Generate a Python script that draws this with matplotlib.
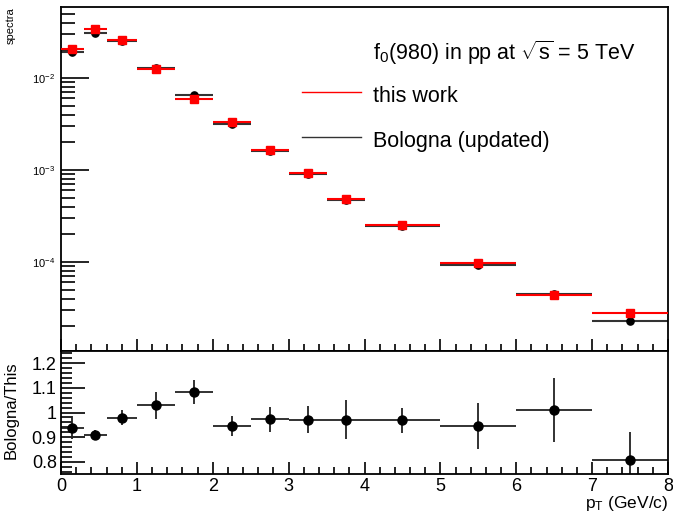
import numpy as np
import matplotlib
matplotlib.use('Agg')
import matplotlib.pyplot as plt
from matplotlib.ticker import MultipleLocator, LogLocator, NullFormatter, FuncFormatter
from matplotlib.lines import Line2D

plt.rcParams['font.family'] = ['Liberation Sans', 'DejaVu Sans']
plt.rcParams['mathtext.fontset'] = 'custom'
plt.rcParams['mathtext.rm'] = 'Liberation Sans'
plt.rcParams['mathtext.it'] = 'Liberation Sans:italic'
plt.rcParams['mathtext.bf'] = 'Liberation Sans:bold'

# ---- data ----
bin_lo = [0.0, 0.3, 0.6, 1.0, 1.5, 2.0, 2.5, 3.0, 3.5, 4.0, 5.0, 6.0, 7.0]
bin_hi = [0.3, 0.6, 1.0, 1.5, 2.0, 2.5, 3.0, 3.5, 4.0, 5.0, 6.0, 7.0, 8.0]
this_work = [2.07e-2, 3.41e-2, 2.59e-2, 1.24e-2, 5.98e-3, 3.33e-3, 1.65e-3,
             9.4e-4, 4.84e-4, 2.55e-4, 9.75e-5, 4.41e-5, 2.81e-5]
this_err = [6e-4, 7e-4, 5e-4, 3e-4, 1.6e-4, 1e-4, 5e-5,
            3e-5, 2e-5, 1e-5, 6e-6, 4e-6, 2.5e-6]
bologna = [1.94e-2, 3.10e-2, 2.54e-2, 1.28e-2, 6.48e-3, 3.15e-3, 1.60e-3,
           9.1e-4, 4.70e-4, 2.47e-4, 9.2e-5, 4.45e-5, 2.27e-5]
bologna_err = [5e-4, 6e-4, 5e-4, 3e-4, 1.6e-4, 9e-5, 5e-5,
               3e-5, 2e-5, 1e-5, 6e-6, 4e-6, 2e-6]
ratio = [0.939, 0.909, 0.979, 1.029, 1.083, 0.945, 0.972,
         0.970, 0.971, 0.968, 0.945, 1.010, 0.808]
ratio_err = [0.047, 0.022, 0.030, 0.055, 0.050, 0.042, 0.049,
             0.055, 0.078, 0.051, 0.094, 0.130, 0.115]

lo = np.array(bin_lo)
hi = np.array(bin_hi)
xc = (lo + hi) / 2
xe = (hi - lo) / 2

fig = plt.figure(figsize=(6.73, 5.14), dpi=100)
W, H = 673, 514
def rect(x0, y0, x1, y1):
    return [x0 / W, 1 - y1 / H, (x1 - x0) / W, (y1 - y0) / H]

ax1 = fig.add_axes(rect(61, 7, 668, 351))
ax2 = fig.add_axes(rect(61, 351, 668, 474))

# ---- top panel ----
ax1.errorbar(xc, bologna, xerr=xe, yerr=bologna_err, fmt='o', color='black',
             ecolor='#333333', elinewidth=1.5, ms=5.2, capsize=0, zorder=2)
ax1.errorbar(xc, this_work, xerr=xe, yerr=this_err, fmt='s', color='#ff0000',
             ecolor='#ff0000', elinewidth=1.5, ms=6.0, capsize=0, zorder=3)
ax1.set_yscale('log')
ax1.set_xlim(0, 8)
ax1.set_ylim(10 ** -4.967, 10 ** -1.228)
ax1.yaxis.set_major_locator(LogLocator(base=10, numticks=10))
ax1.yaxis.set_minor_locator(LogLocator(base=10, subs=np.arange(2, 10), numticks=20))
ax1.yaxis.set_minor_formatter(NullFormatter())
ax1.xaxis.set_major_locator(MultipleLocator(1))
ax1.xaxis.set_minor_locator(MultipleLocator(0.2))
ax1.tick_params(axis='x', which='both', labelbottom=False, direction='in', top=False)
ax1.tick_params(axis='x', which='major', length=9, width=1.2)
ax1.tick_params(axis='x', which='minor', length=5, width=1.2)
ax1.tick_params(axis='y', which='major', direction='in', length=20, width=1.2,
                labelsize=8, right=False, pad=4)
ax1.tick_params(axis='y', which='minor', direction='in', length=10, width=1.2, right=False)
ax1.set_ylabel('spectra', fontsize=8)
ax1.yaxis.set_label_coords(-0.075, 1.0)
ax1.yaxis.label.set_horizontalalignment('right')
for s in ax1.spines.values():
    s.set_linewidth(1.3)

# legend (manual, ROOT style)
ax1.text(373 / W, 1 - 53 / H, r'f$_{\rm 0}$(980) in pp at $\sqrt{\rm s}$ = 5 TeV',
         transform=fig.transFigure, fontsize=15.5, va='center', ha='left')
fig.add_artist(Line2D([302 / W, 361 / W], [1 - 92 / H, 1 - 92 / H], color='#ff0000', lw=1.0))
ax1.text(373 / W, 1 - 96 / H, 'this work', transform=fig.transFigure,
         fontsize=15.5, va='center', ha='left')
fig.add_artist(Line2D([302 / W, 361 / W], [1 - 137 / H, 1 - 137 / H], color='#333333', lw=1.0))
ax1.text(373 / W, 1 - 141 / H, 'Bologna (updated)', transform=fig.transFigure,
         fontsize=15.5, va='center', ha='left')

# ---- ratio panel ----
ax2.errorbar(xc, ratio, xerr=xe, yerr=ratio_err, fmt='o', color='black',
             ecolor='#222222', elinewidth=1.3, ms=6.5, capsize=0)
ax2.set_xlim(0, 8)
ax2.set_ylim(0.751, 1.249)
ax2.xaxis.set_major_locator(MultipleLocator(1))
ax2.xaxis.set_minor_locator(MultipleLocator(0.2))
ax2.yaxis.set_major_locator(MultipleLocator(0.1))
ax2.yaxis.set_minor_locator(MultipleLocator(0.02))
ax2.yaxis.set_major_formatter(FuncFormatter(lambda v, p: '%g' % round(v, 2)))
ax2.tick_params(axis='x', which='major', direction='in', length=9, width=1.2,
                labelsize=13, top=False, pad=3)
ax2.tick_params(axis='x', which='minor', direction='in', length=5, width=1.2, top=False)
ax2.tick_params(axis='y', which='major', direction='in', length=17, width=1.2,
                labelsize=13, right=False, pad=3)
ax2.tick_params(axis='y', which='minor', direction='in', length=8, width=1.2, right=False)
ax2.set_ylabel('Bologna/This', fontsize=12)
ax2.yaxis.set_label_coords(-0.070, 0.52)
ax2.set_xlabel(r'p$_{\rm T}$ (GeV/c)', fontsize=12.5, ha='right', va='top')
ax2.xaxis.set_label_coords(1.0, -0.165)
for s in ax2.spines.values():
    s.set_linewidth(1.3)

fig.savefig('out.png', dpi=100)
